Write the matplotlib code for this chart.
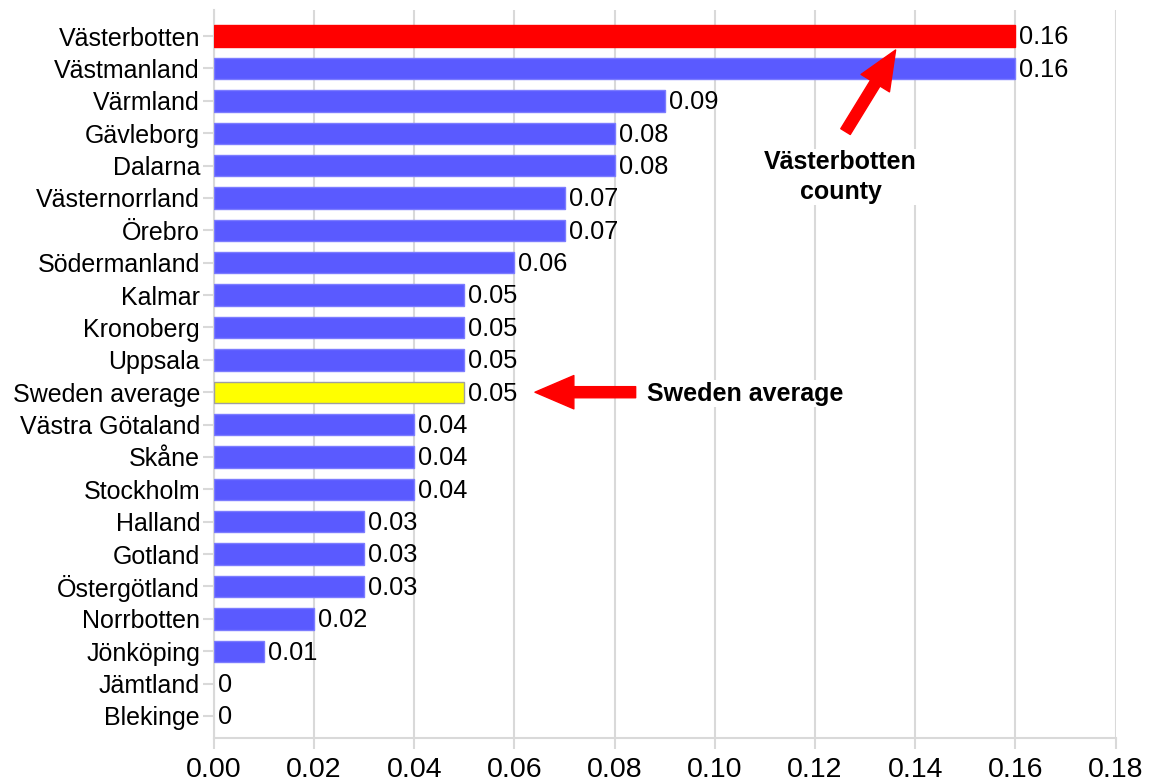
import matplotlib.pyplot as plt

plt.rcParams['font.family'] = ['Liberation Sans', 'DejaVu Sans']

counties = ['Västerbotten', 'Västmanland', 'Värmland', 'Gävleborg', 'Dalarna',
            'Västernorrland', 'Örebro', 'Södermanland', 'Kalmar', 'Kronoberg',
            'Uppsala', 'Sweden average', 'Västra Götaland', 'Skåne', 'Stockholm',
            'Halland', 'Gotland', 'Östergötland', 'Norrbotten', 'Jönköping',
            'Jämtland', 'Blekinge']
values = [0.16, 0.16, 0.09, 0.08, 0.08, 0.07, 0.07, 0.06, 0.05, 0.05, 0.05,
          0.05, 0.04, 0.04, 0.04, 0.03, 0.03, 0.03, 0.02, 0.01, 0, 0]
x_ticks = [0.00, 0.02, 0.04, 0.06, 0.08, 0.10, 0.12, 0.14, 0.16, 0.18]

BLUE = '#5a5aff'
colors = []
edges = []
for name in counties:
    if name == 'Västerbotten':
        colors.append('#ff0000')
        edges.append('#ff0000')
    elif name == 'Sweden average':
        colors.append('#ffff00')
        edges.append('#a0a0a0')
    else:
        colors.append(BLUE)
        edges.append('#7c7cff')
widths = [1 if v > 0 else 0 for v in values]

fig = plt.figure(figsize=(11.5, 7.83), dpi=100)
ax = fig.add_axes([0.186, 0.0575, 0.784, 0.9295])

pos = list(range(len(counties)))
ax.barh(pos, values, height=0.66, color=colors, edgecolor=edges, linewidth=widths, zorder=3)

for p, v in zip(pos, values):
    label = '0' if v == 0 else f'{v:.2f}'
    ax.text(v + 0.0008, p + 0.04, label, va='center', ha='left', fontsize=18.3, zorder=4)

ax.set_yticks(pos)
ax.set_yticklabels(counties, fontsize=18)
ax.set_ylim(len(counties) - 1 + 0.68, -0.80)

ax.set_xticks(x_ticks)
ax.set_xticklabels([f'{t:.2f}' for t in x_ticks], fontsize=20.5)
ax.set_xlim(0, 0.18)

grey = '#d9d9d9'
ax.grid(axis='x', color=grey, linewidth=1.5, zorder=0)
ax.set_axisbelow(True)
for side in ['top', 'right']:
    ax.spines[side].set_visible(False)
for side in ['left', 'bottom']:
    ax.spines[side].set_color(grey)
    ax.spines[side].set_linewidth(1.5)
ax.tick_params(axis='both', color=grey, width=1.5, length=8)
ax.tick_params(axis='x', pad=6)
ax.tick_params(axis='y', pad=2)

arrow = dict(facecolor='#ff0000', edgecolor='#ff0000', width=8, headwidth=24, headlength=28)

# pointer to the national average bar
ax.annotate('', xy=(0.0641, 11), xytext=(0.0842, 11), arrowprops=arrow, zorder=5)
ax.text(0.0864, 11.05, 'Sweden average', fontsize=18, fontweight='bold',
        va='center', ha='left', zorder=5,
        bbox=dict(facecolor='white', edgecolor='none', pad=1))

# pointer to the highlighted county
ax.annotate('', xy=(0.1361, 0.43), xytext=(0.1261, 2.95), arrowprops=arrow, zorder=5)
ax.text(0.1251, 4.35, 'Västerbotten\ncounty', fontsize=18, fontweight='bold',
        va='center', ha='center', linespacing=1.3, zorder=5,
        bbox=dict(facecolor='white', edgecolor='none', pad=1))

fig.savefig('out.png', dpi=100)
